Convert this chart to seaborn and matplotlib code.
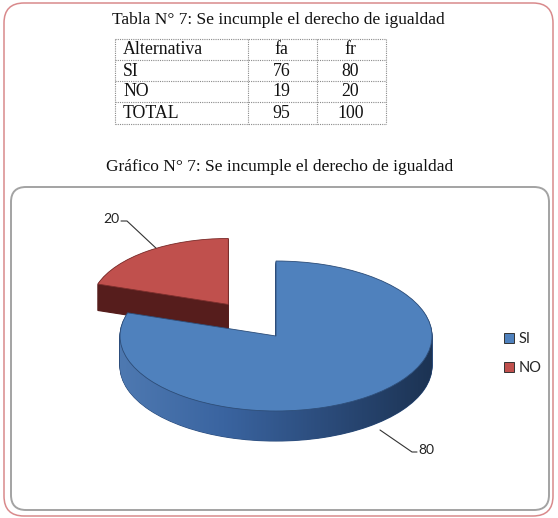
import numpy as np
import matplotlib
matplotlib.use("Agg")
import matplotlib.pyplot as plt
import seaborn as sns
from matplotlib.patches import FancyBboxPatch, Patch, Polygon
from matplotlib.colors import LinearSegmentedColormap

# ---------------- data ----------------
categories = ["SI", "NO"]
fa_values = [76, 19]
fr_values = [80, 20]
total_label = "TOTAL"
fa_total = 95
fr_total = 100
table_header = ["Alternativa", "fa", "fr"]
table_title = "Tabla N° 7: Se incumple el derecho de igualdad"
chart_title = "Gráfico N° 7: Se incumple el derecho de igualdad"
explode = [0.0, 0.52]

top_colors = ["#4f81bd", "#c0504d"]
edge_colors = ["#2f4f7a", "#7d2f2d"]
side_colors = ["#2c4d7c", "#561d1c"]

sns.set_style("white")
plt.rcParams["font.family"] = ["Liberation Serif", "DejaVu Serif"]

W, H = 558, 518
fig = plt.figure(figsize=(W / 100, H / 100), dpi=100)
bg = fig.add_axes([0, 0, 1, 1])
bg.set_xlim(0, W)
bg.set_ylim(H, 0)
bg.axis("off")

# outer red rounded frame and inner gray rounded frame
bg.add_patch(FancyBboxPatch((4, 3), 549, 513, boxstyle="round,pad=0,rounding_size=20",
                            fc="none", ec="#d98a8c", lw=1.1))
bg.add_patch(FancyBboxPatch((11, 187), 538, 323, boxstyle="round,pad=0,rounding_size=15",
                            fc="none", ec="#a3a3a3", lw=1.4))

# titles
bg.text(278, 20, table_title, ha="center", va="center", fontsize=12.5, color="#111")
bg.text(280, 167, chart_title, ha="center", va="center", fontsize=12.5, color="#111")

# table
col_x = [115, 248, 317, 386]
row_y = [39, 60, 81, 102, 124]
for x in col_x:
    bg.plot([x, x], [row_y[0], row_y[-1]], color="#8a8a8a", lw=0.8, ls=(0, (1, 1)))
for y in row_y:
    bg.plot([col_x[0], col_x[-1]], [y, y], color="#8a8a8a", lw=0.8, ls=(0, (1, 1)))
rows = [table_header,
        [categories[0], str(fa_values[0]), str(fr_values[0])],
        [categories[1], str(fa_values[1]), str(fr_values[1])],
        [total_label, str(fa_total), str(fr_total)]]
for r, row in enumerate(rows):
    yc = (row_y[r] + row_y[r + 1]) / 2 + 0.5
    bg.text(col_x[0] + 8, yc, row[0], ha="left", va="center", fontsize=12.8, color="#111")
    for c in (1, 2):
        bg.text((col_x[c] + col_x[c + 1]) / 2 - 1, yc, row[c], ha="center", va="center",
                fontsize=12.8, color="#111")

# ---------------- 3D-looking pie ----------------
rx_px, ry_px = 156.0, 75.0
cx_px, cy_px = 276.0, 336.0
depth_px = 30.0
radii = [1.0, 0.88]          # farther slice looks a bit smaller (perspective)
box = (40, 200, 520, 470)  # left, top, right, bottom in px
ax = fig.add_axes([box[0] / W, 1 - box[3] / H, (box[2] - box[0]) / W, (box[3] - box[1]) / H])
ax.patch.set_alpha(0)
d = depth_px / ry_px

n_layers = 32
wedges_top = [None, None]
for i in range(len(fr_values)):
    di = d * radii[i]
    offsets = np.linspace(-di, 0, n_layers)
    for k, off in enumerate(offsets):
        is_top = k == n_layers - 1
        cols = top_colors if is_top else side_colors
        wedges, _ = ax.pie(fr_values, explode=explode, startangle=90, counterclock=False,
                           colors=cols, center=(0, off), radius=radii[i],
                           wedgeprops=dict(linewidth=0.6 if is_top else 0.8))
        for j, w in enumerate(wedges):
            if j != i:
                w.remove()
                continue
            base = 2.0 if i == 0 else 1.0
            if is_top:
                w.set_edgecolor(edge_colors[i])
                w.set_zorder(base + 0.8)
                wedges_top[i] = w
            else:
                w.set_edgecolor(side_colors[i])
                w.set_zorder(base + k * 0.001)

# shaded front walls (visible part of the rim, angles 180..360)
side_cmaps = [
    LinearSegmentedColormap.from_list("bs", ["#4e79b1", "#3a64a0", "#2b4b7a", "#1c3353"]),
    LinearSegmentedColormap.from_list("rs", ["#6a2524", "#561d1c", "#421514"]),
]
for i, w in enumerate(wedges_top):
    cx, cy = w.center
    r = w.r
    di = d * radii[i]
    th1, th2 = w.theta1, w.theta2
    for shift in (-360, 0, 360):
        lo = max(th1, -180 + shift)
        hi = min(th2, 0 + shift)
        if lo >= hi:
            continue
        t = np.radians(np.linspace(lo, hi, 120))
        top = np.column_stack([cx + r * np.cos(t), cy + r * np.sin(t)])
        bot = np.column_stack([cx + r * np.cos(t[::-1]), cy - di + r * np.sin(t[::-1])])
        poly = Polygon(np.vstack([top, bot]), closed=True, fc="none", ec="none",
                       transform=ax.transData)
        ax.add_patch(poly)
        grad = np.linspace(0, 1, 256).reshape(1, -1)
        im = ax.imshow(grad, cmap=side_cmaps[i], aspect="auto",
                       extent=(cx - r, cx + r, cy - di - r, cy), zorder=w.get_zorder() - 0.1,
                       interpolation="bilinear")
        im.set_clip_path(poly)

ax.set_aspect("auto")
ax.set_xlim((box[0] - cx_px) / rx_px, (box[2] - cx_px) / rx_px)
ax.set_ylim(-(box[3] - cy_px) / ry_px, (cy_px - box[1]) / ry_px)
ax.axis("off")

# data labels with leader lines
lab_font = dict(family=["Lato", "DejaVu Sans"], size=10, color="#222")
bg.plot([158, 127, 121], [250, 221, 221], color="#333", lw=0.8)
bg.text(119, 219, f"{fr_values[1]}", ha="right", va="center", **lab_font)
bg.plot([380, 412, 417], [430, 452, 452], color="#333", lw=0.8)
bg.text(418, 450, f"{fr_values[0]}", ha="left", va="center", **lab_font)

# legend
handles = [Patch(facecolor=top_colors[i], edgecolor="#333", lw=0.7) for i in range(2)]
fig.legend(handles, categories, loc="upper left", bbox_to_anchor=(491 / W, 1 - 319 / H),
           frameon=False, handlelength=0.7, handleheight=0.7, handletextpad=0.3,
           labelspacing=1.0, prop=dict(family=["Lato", "DejaVu Sans"], size=10.5))

fig.savefig("out.png", dpi=100)
